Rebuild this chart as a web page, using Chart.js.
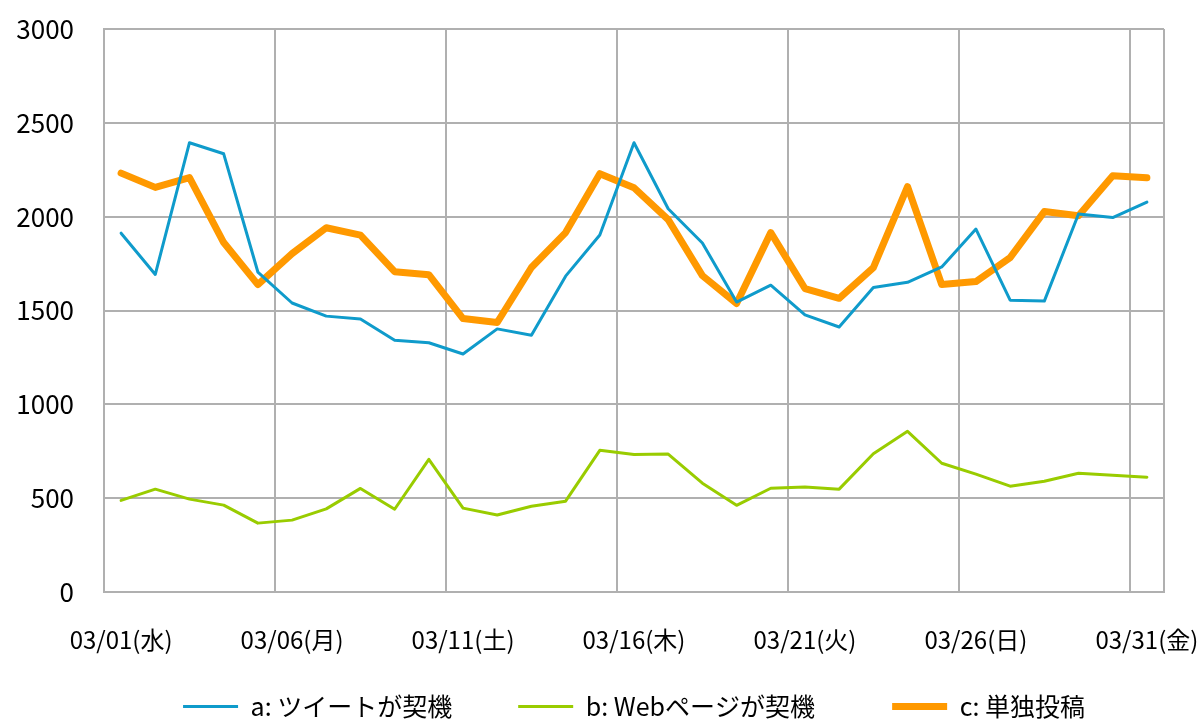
<!DOCTYPE html>
<html>
<head>
<meta charset="utf-8">
<script src="https://cdn.jsdelivr.net/npm/chart.js@4"></script>
<style>
  html, body { margin: 0; padding: 0; background: #fff; }
  #wrap { width: 1200px; height: 720px; }
</style>
</head>
<body>
<div id="wrap"><canvas id="chart" width="1200" height="720"></canvas></div>
<script>
// 日付ラベル (2017年3月)
const dates = [
    '03/01(水)', '03/02(木)', '03/03(金)', '03/04(土)', '03/05(日)',
    '03/06(月)', '03/07(火)', '03/08(水)', '03/09(木)', '03/10(金)',
    '03/11(土)', '03/12(日)', '03/13(月)', '03/14(火)', '03/15(水)',
    '03/16(木)', '03/17(金)', '03/18(土)', '03/19(日)', '03/20(月)',
    '03/21(火)', '03/22(水)', '03/23(木)', '03/24(金)', '03/25(土)',
    '03/26(日)', '03/27(月)', '03/28(火)', '03/29(水)', '03/30(木)',
    '03/31(金)'
];

const seriesNames = ['a: ツイートが契機', 'b: Webページが契機', 'c: 単独投稿'];

const tweetData = [
    1912, 1692, 2394, 2335, 1705, 1540, 1470, 1455, 1342, 1328,
    1268, 1402, 1368, 1683, 1902, 2394, 2042, 1860, 1545, 1635,
    1477, 1412, 1622, 1650, 1732, 1934, 1555, 1550, 2014, 1995,
    2078
];
const webData = [
    488, 548, 495, 463, 367, 383, 443, 552, 441, 707,
    447, 410, 457, 484, 755, 733, 735, 580, 462, 553,
    559, 548, 737, 856, 686, 628, 564, 590, 633, 622,
    612
];
const soloData = [
    2232, 2156, 2208, 1862, 1638, 1803, 1941, 1902, 1707, 1691,
    1457, 1436, 1729, 1915, 2229, 2154, 1984, 1686, 1537, 1915,
    1617, 1565, 1729, 2160, 1638, 1654, 1782, 2027, 2005, 2218,
    2207
];

const yTicks = [0, 500, 1000, 1500, 2000, 2500, 3000];

const gridColor = '#b0b0b0';
const jpFont = '"Noto Sans CJK JP", "Noto Sans", sans-serif';

function makeLine(label, data, color, width) {
    return {
        label: label,
        data: data,
        borderColor: color,
        backgroundColor: color,
        borderWidth: width,
        pointRadius: 0,
        pointHoverRadius: 0,
        pointStyle: 'line',
        tension: 0,
        borderCapStyle: 'round',
        borderJoinStyle: 'round'
    };
}

// 凡例の項目間の空き
const legendGaps = ['          ', '            '];

new Chart(document.getElementById('chart').getContext('2d'), {
    type: 'line',
    data: {
        labels: dates,
        datasets: [
            makeLine(seriesNames[0], tweetData, '#0f9bcb', 3),
            makeLine(seriesNames[1], webData, '#99cc00', 3),
            makeLine(seriesNames[2], soloData, '#ff9900', 7)
        ]
    },
    options: {
        responsive: false,
        animation: false,
        layout: {
            padding: { top: 29, right: 36, bottom: -9, left: 0 }
        },
        plugins: {
            tooltip: { enabled: false },
            legend: {
                position: 'bottom',
                fullSize: false,
                labels: {
                    usePointStyle: true,
                    pointStyleWidth: 55,
                    padding: 10,
                    color: '#000',
                    font: { family: jpFont, size: 25 },
                    generateLabels: function (chart) {
                        const items = Chart.defaults.plugins.legend.labels.generateLabels(chart);
                        items.forEach(function (it, i) {
                            if (legendGaps[i]) it.text = it.text + legendGaps[i];
                        });
                        return items;
                    }
                }
            }
        },
        scales: {
            x: {
                type: 'category',
                offset: true,
                afterFit: function (axis) {
                    axis.height = 92;
                    axis.paddingLeft = 0;
                    axis.paddingRight = 0;
                },
                grid: {
                    offset: true,
                    drawTicks: false,
                    lineWidth: 2,
                    color: function (ctx) {
                        if (ctx.type !== 'tick') return gridColor;
                        return ctx.index % 5 === 0 ? gridColor : 'rgba(0,0,0,0)';
                    }
                },
                border: { display: true, color: gridColor, width: 2 },
                ticks: {
                    autoSkip: false,
                    maxRotation: 0,
                    minRotation: 0,
                    padding: 33,
                    color: '#000',
                    font: { family: jpFont, size: 24 },
                    callback: function (value, index) {
                        return index % 5 === 0 ? dates[index] : '';
                    }
                }
            },
            y: {
                min: 0,
                max: 3000,
                afterFit: function (axis) {
                    axis.width = 104;
                    axis.paddingTop = 0;
                    axis.paddingBottom = 0;
                },
                afterBuildTicks: function (axis) {
                    axis.ticks = yTicks.map(function (v) { return { value: v }; });
                },
                grid: {
                    drawTicks: false,
                    lineWidth: 2,
                    color: gridColor
                },
                border: { display: true, color: gridColor, width: 2 },
                ticks: {
                    padding: 30,
                    color: '#000',
                    font: { family: jpFont, size: 26 },
                    callback: function (value) { return String(value); }
                }
            }
        }
    }
});
</script>
</body>
</html>
